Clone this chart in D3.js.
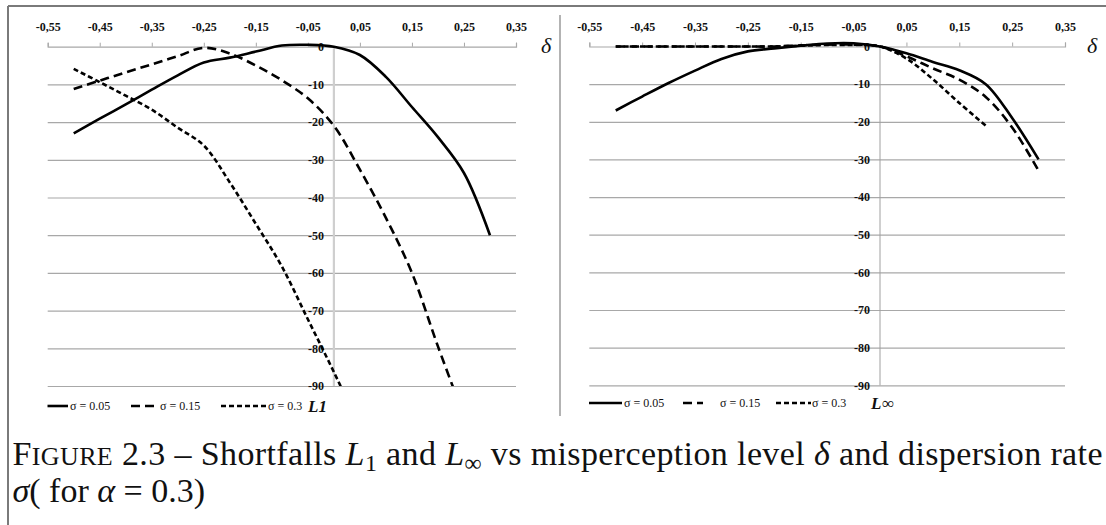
<!DOCTYPE html>
<html><head><meta charset="utf-8">
<script src="https://cdn.jsdelivr.net/npm/d3@7"></script>
<style>
html,body{margin:0;padding:0;background:#fff;}
svg{display:block;}
</style></head>
<body>
<svg id="chart" width="1106" height="525"></svg>
<script>
// ---- data ----
const deltas = [-0.5,-0.45,-0.4,-0.35,-0.3,-0.25,-0.2,-0.15,-0.1,-0.05,0,0.05,0.1,0.15,0.2,0.25,0.3];
const seriesNames = ["σ = 0.05", "σ = 0.15", "σ = 0.3"];
// L1 panel
const L1_s005 = [-23,-19.1,-15.3,-11.4,-7.6,-4.2,-2.9,-1.3,0.3,0.5,0,-2.2,-8,-16,-24,-33.5,-50];
const L1_s015 = [-11.2,-9,-6.8,-4.7,-2.5,-0.3,-1.8,-5,-8.9,-13.7,-21,-32.6,-45.4,-60,-79.5,-98,null];
const L1_s03  = [-5.9,-9.4,-13,-16.7,-21.5,-26.2,-36,-47,-58.3,-72.3,-86.3,-101,null,null,null,null,null];
// L-infinity panel
const Linf_s005 = [-17,-13.3,-9.7,-6.4,-3.3,-1.3,-0.5,0.2,0.8,0.85,0,-1.8,-4.1,-6.3,-10,-19,-30];
const Linf_s015 = [0,0,0,0,0,0,0,0.3,0.5,0.5,0,-2.6,-5.8,-8.8,-13.4,-21.5,-33];
const Linf_s03  = [0,0,0,0,0,0,0,0.2,0.4,0.4,0,-3.2,-8.7,-15,-21,null,null];
const xTicks = [-0.55,-0.45,-0.35,-0.25,-0.15,-0.05,0.05,0.15,0.25,0.35];
const yTicks = [0,-10,-20,-30,-40,-50,-60,-70,-80,-90];

// ---- layout ----
const svg = d3.select("#chart");
const serif = "'Liberation Serif','Times New Roman',serif";
const dashes = [null, "9,5", "5,3"];

// page frame
svg.append("line").attr("x1",8).attr("x2",1106).attr("y1",6).attr("y2",6)
  .attr("stroke","#7a7a7a").attr("stroke-width",2);
svg.append("line").attr("x1",8).attr("x2",8).attr("y1",6).attr("y2",525)
  .attr("stroke","#7a7a7a").attr("stroke-width",2);
svg.append("line").attr("x1",560).attr("x2",560).attr("y1",15).attr("y2",416)
  .attr("stroke","#9a9a9a").attr("stroke-width",1.5);

function panel(cfg){
  const x = d3.scaleLinear().domain([-0.55,0.35]).range(cfg.xr);
  const y = d3.scaleLinear().domain([-90,0]).range(cfg.yr);
  const g = svg.append("g");
  const clipId = "clip"+cfg.id;
  svg.append("clipPath").attr("id",clipId).append("rect")
    .attr("x",cfg.xr[0]).attr("y",cfg.yr[1]-20)
    .attr("width",cfg.xr[1]-cfg.xr[0]).attr("height",cfg.yr[0]-cfg.yr[1]+20);

  // gridlines
  const grid = g.append("g").attr("transform",`translate(${cfg.xr[0]},0)`)
    .call(d3.axisLeft(y).tickValues(yTicks.filter(v=>v!==0))
      .tickSize(-(cfg.xr[1]-cfg.xr[0])).tickFormat(""));
  grid.select(".domain").remove();
  grid.selectAll(".tick line").attr("stroke","#a8a8a8").attr("stroke-width",1.2);

  // vertical axis at delta = 0
  g.append("line").attr("x1",x(0)).attr("x2",x(0)).attr("y1",y(0)).attr("y2",y(-90))
    .attr("stroke",cfg.vColor).attr("stroke-width",cfg.vWidth);

  // top x axis
  const xa = g.append("g").attr("transform",`translate(0,${y(0)})`)
    .call(d3.axisTop(x).tickValues(xTicks).tickSize(4).tickPadding(12)
      .tickFormat(d=>d3.format(".2f")(d).replace("−","-").replace(".",",")));
  xa.select(".domain").attr("stroke","#a8a8a8").attr("stroke-width",1.2);
  xa.selectAll(".tick line").attr("stroke","#a8a8a8").attr("stroke-width",1);
  xa.selectAll("text").attr("font-family",serif).attr("font-size",12)
    .attr("font-weight","bold").attr("fill","#111");

  // y labels at delta = 0
  const ya = g.append("g").attr("transform",`translate(${x(0)},0)`)
    .call(d3.axisLeft(y).tickValues(yTicks).tickSize(0).tickPadding(10)
      .tickFormat(d=>String(d)));
  ya.select(".domain").remove();
  ya.selectAll("text").attr("font-family",serif).attr("font-size",12)
    .attr("font-weight","bold").attr("fill","#111");

  // delta label
  g.append("text").attr("x",cfg.deltaX).attr("y",y(0)+6)
    .attr("font-family",serif).attr("font-style","italic").attr("font-size",22)
    .attr("fill","#111").text("δ");

  // series
  const line = d3.line().defined(d=>d[1]!==null)
    .x(d=>x(d[0])).y(d=>y(d[1])).curve(d3.curveCatmullRom.alpha(0.5));
  cfg.series.forEach((vals,i)=>{
    g.append("path").datum(deltas.map((d,j)=>[d,vals[j]]))
      .attr("clip-path",`url(#${clipId})`)
      .attr("d",line).attr("fill","none").attr("stroke","#000")
      .attr("stroke-width",2.6).attr("stroke-dasharray",dashes[i]);
  });

  // legend
  const ly = cfg.legendY;
  cfg.legend.forEach((L,i)=>{
    g.append("line").attr("x1",L.x1).attr("x2",L.x2).attr("y1",ly).attr("y2",ly)
      .attr("stroke","#000").attr("stroke-width",2.6).attr("stroke-dasharray",dashes[i]);
    g.append("text").attr("x",L.tx).attr("y",ly+4).attr("font-family",serif)
      .attr("font-size",12).attr("fill","#111").text(seriesNames[i]);
  });
  g.append("text").attr("x",cfg.nameX).attr("y",ly+6).attr("font-family",serif)
    .attr("font-size",17).attr("font-weight","bold").attr("font-style","italic")
    .attr("fill","#111").text(cfg.name);
}

panel({id:"L", xr:[47.7,516], yr:[386,46.7], vColor:"#cfcfcf", vWidth:2.2, deltaX:541,
  series:[L1_s005,L1_s015,L1_s03], legendY:406, name:"L1", nameX:308,
  legend:[{x1:47.5,x2:68,tx:70},{x1:131,x2:154,tx:160},{x1:221,x2:266,tx:268}]});
panel({id:"R", xr:[589.3,1065], yr:[385.3,46.5], vColor:"#a0a0a0", vWidth:1, deltaX:1087,
  series:[Linf_s005,Linf_s015,Linf_s03], legendY:403, name:"L∞", nameX:871,
  legend:[{x1:589,x2:622,tx:624},{x1:683,x2:703,tx:720},{x1:776,x2:811,tx:812}]});

// caption
const cap1 = svg.append("text").attr("x",12.5).attr("y",465)
  .attr("font-family",serif).attr("font-size",34).attr("fill","#111")
  .attr("textLength",1090).attr("lengthAdjust","spacing");
cap1.append("tspan").text("F");
cap1.append("tspan").attr("font-size",26).text("IGURE");
cap1.append("tspan").text(" 2.3 –  Shortfalls ");
cap1.append("tspan").attr("font-style","italic").text("L");
cap1.append("tspan").attr("font-size",24).attr("dy",6).text("1");
cap1.append("tspan").attr("dy",-6).text(" and ");
cap1.append("tspan").attr("font-style","italic").text("L");
cap1.append("tspan").attr("font-size",24).attr("dy",6).text("∞");
cap1.append("tspan").attr("dy",-6).text(" vs misperception level ");
cap1.append("tspan").attr("font-style","italic").text("δ");
cap1.append("tspan").text(" and dispersion rate");
const cap2 = svg.append("text").attr("x",12.5).attr("y",502)
  .attr("font-family",serif).attr("font-size",34).attr("fill","#111");
cap2.append("tspan").attr("font-style","italic").text("σ");
cap2.append("tspan").text("( for ");
cap2.append("tspan").attr("font-style","italic").text("α");
cap2.append("tspan").text(" = 0.3)");
</script>
</body></html>
